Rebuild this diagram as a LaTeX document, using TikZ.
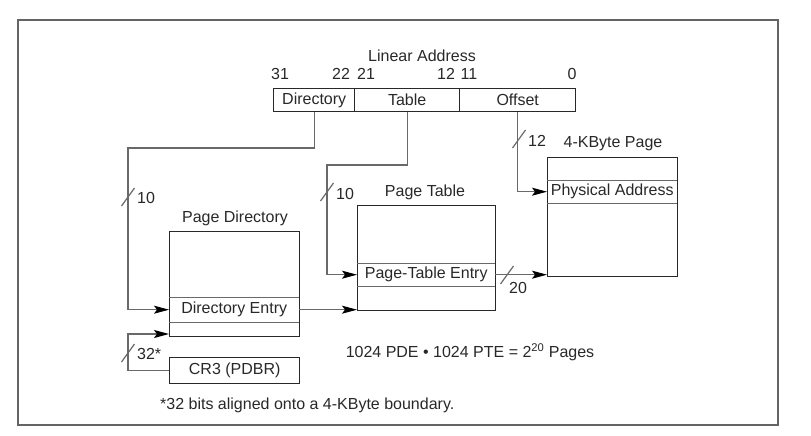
\documentclass[tikz,border=0pt]{standalone}
\usepackage{fontspec}
\setmainfont{Liberation Sans}
\usetikzlibrary{arrows.meta}
\definecolor{ln}{RGB}{105,105,105}
\definecolor{bx}{RGB}{40,40,40}
\definecolor{tx}{RGB}{40,40,40}
\definecolor{fr}{RGB}{100,100,100}
\begin{document}
\begin{tikzpicture}[x=1pt,y=-1pt,
  font=\fontsize{16}{19}\selectfont, text=tx,
  box/.style={draw=bx, line width=1.4pt, inner sep=0pt, anchor=north west},
  entry/.style={inner sep=0pt, anchor=north west},
  div/.style={draw=ln, line width=1pt},
  conn/.style={draw=ln, line width=1.1pt},
  arr/.style={conn, -{Stealth[length=15pt,width=8pt,inset=3pt,color=black]}},
  lbl/.style={inner sep=0pt},
  slashline/.style={draw=ln, line width=1.2pt}]
\useasboundingbox (0,0) rectangle (811,436);
\draw[draw=fr, line width=2pt] (18,20) rectangle (778,425);

% Linear address
\node[lbl] (latitle) at (422,56) {Linear Address};
\node[lbl] (b31) at (280,74) {31};
\node[lbl] (b22) at (341,74) {22};
\node[lbl] (b21) at (366,74) {21};
\node[lbl] (b12) at (446,74) {12};
\node[lbl] (b11) at (469,74) {11};
\node[lbl] (b0) at (572,74) {0};
\node[box, minimum width=81pt, minimum height=23pt] (dir) at (273,88) {Directory};
\node[box, minimum width=105pt, minimum height=23pt] (tab) at (354,88) {Table};
\node[box, minimum width=116pt, minimum height=23pt] (off) at (459,88) {Offset};

% Page directory
\node[lbl] (pdtitle) at (235,218) {Page Directory};
\node[box, minimum width=130pt, minimum height=105pt] (pd) at (169,231) {};
\node[entry, minimum width=130pt, minimum height=25pt] (pde) at (169,297) {Directory Entry};
\draw[div] (pde.north west) -- (pde.north east);
\draw[div] (pde.south west) -- (pde.south east);

% CR3
\node[box, minimum width=130pt, minimum height=26pt] (cr3) at (169,357) {CR3 (PDBR)};

% Page table
\node[lbl] (pttitle) at (425,192) {Page Table};
\node[box, minimum width=138pt, minimum height=105pt] (pt) at (357,205) {};
\node[entry, minimum width=138pt, minimum height=23pt] (pte) at (357,263) {Page-Table Entry};
\draw[div] (pte.north west) -- (pte.north east);
\draw[div] (pte.south west) -- (pte.south east);

% 4-KByte page
\node[lbl] (pgtitle) at (613,144) {4-KByte Page};
\node[box, minimum width=130pt, minimum height=119pt] (pg) at (547,157) {};
\node[entry, minimum width=130pt, minimum height=23pt] (pa) at (547,180) {Physical Address};
\draw[div] (pa.north west) -- (pa.north east);
\draw[div] (pa.south west) -- (pa.south east);

% connectors
\coordinate (c1) at (128,148);
\coordinate (c2) at (327,165);
\coordinate (c3) at (128,334);
\draw[arr] (dir.south) |- (c1) |- (pde.west);
\draw[arr] (tab.south) |- (c2) |- (pte.west);
\draw[arr] (off.south) |- (pa.west);
\draw[arr] (pde.east) -- (pde.east -| pt.west);
\draw[arr] (pte.east) -- (pte.east -| pg.west);
\draw[arr] (cr3.west) -| (c3) -- (c3 -| pd.west);

% slashes and widths
\coordinate (s1) at (128,197);
\coordinate (s2) at (327,192);
\coordinate (s3) at (519,139);
\coordinate (s4) at (507,275);
\coordinate (s5) at (128,353);
\foreach \s in {s1,s2,s3,s4,s5}
  \draw[slashline] ([shift={(-6.5,9)}]\s) -- ([shift={(6.5,-9)}]\s);
\node[lbl, anchor=west] (w1) at (137,198) {10};
\node[lbl, anchor=west] (w2) at (336,194) {10};
\node[lbl, anchor=west] (w3) at (528,141) {12};
\node[lbl] (w4) at (518,288) {20};
\node[lbl, anchor=west] (w5) at (137,354) {32*};

% formula and footnote
\node[lbl] (formula) at (470,352) {1024 PDE • 1024 PTE = 2\textsuperscript{20} Pages};
\node[lbl, anchor=west] (foot) at (160,405) {*32 bits aligned onto a 4-KByte boundary.};
\end{tikzpicture}
\end{document}
